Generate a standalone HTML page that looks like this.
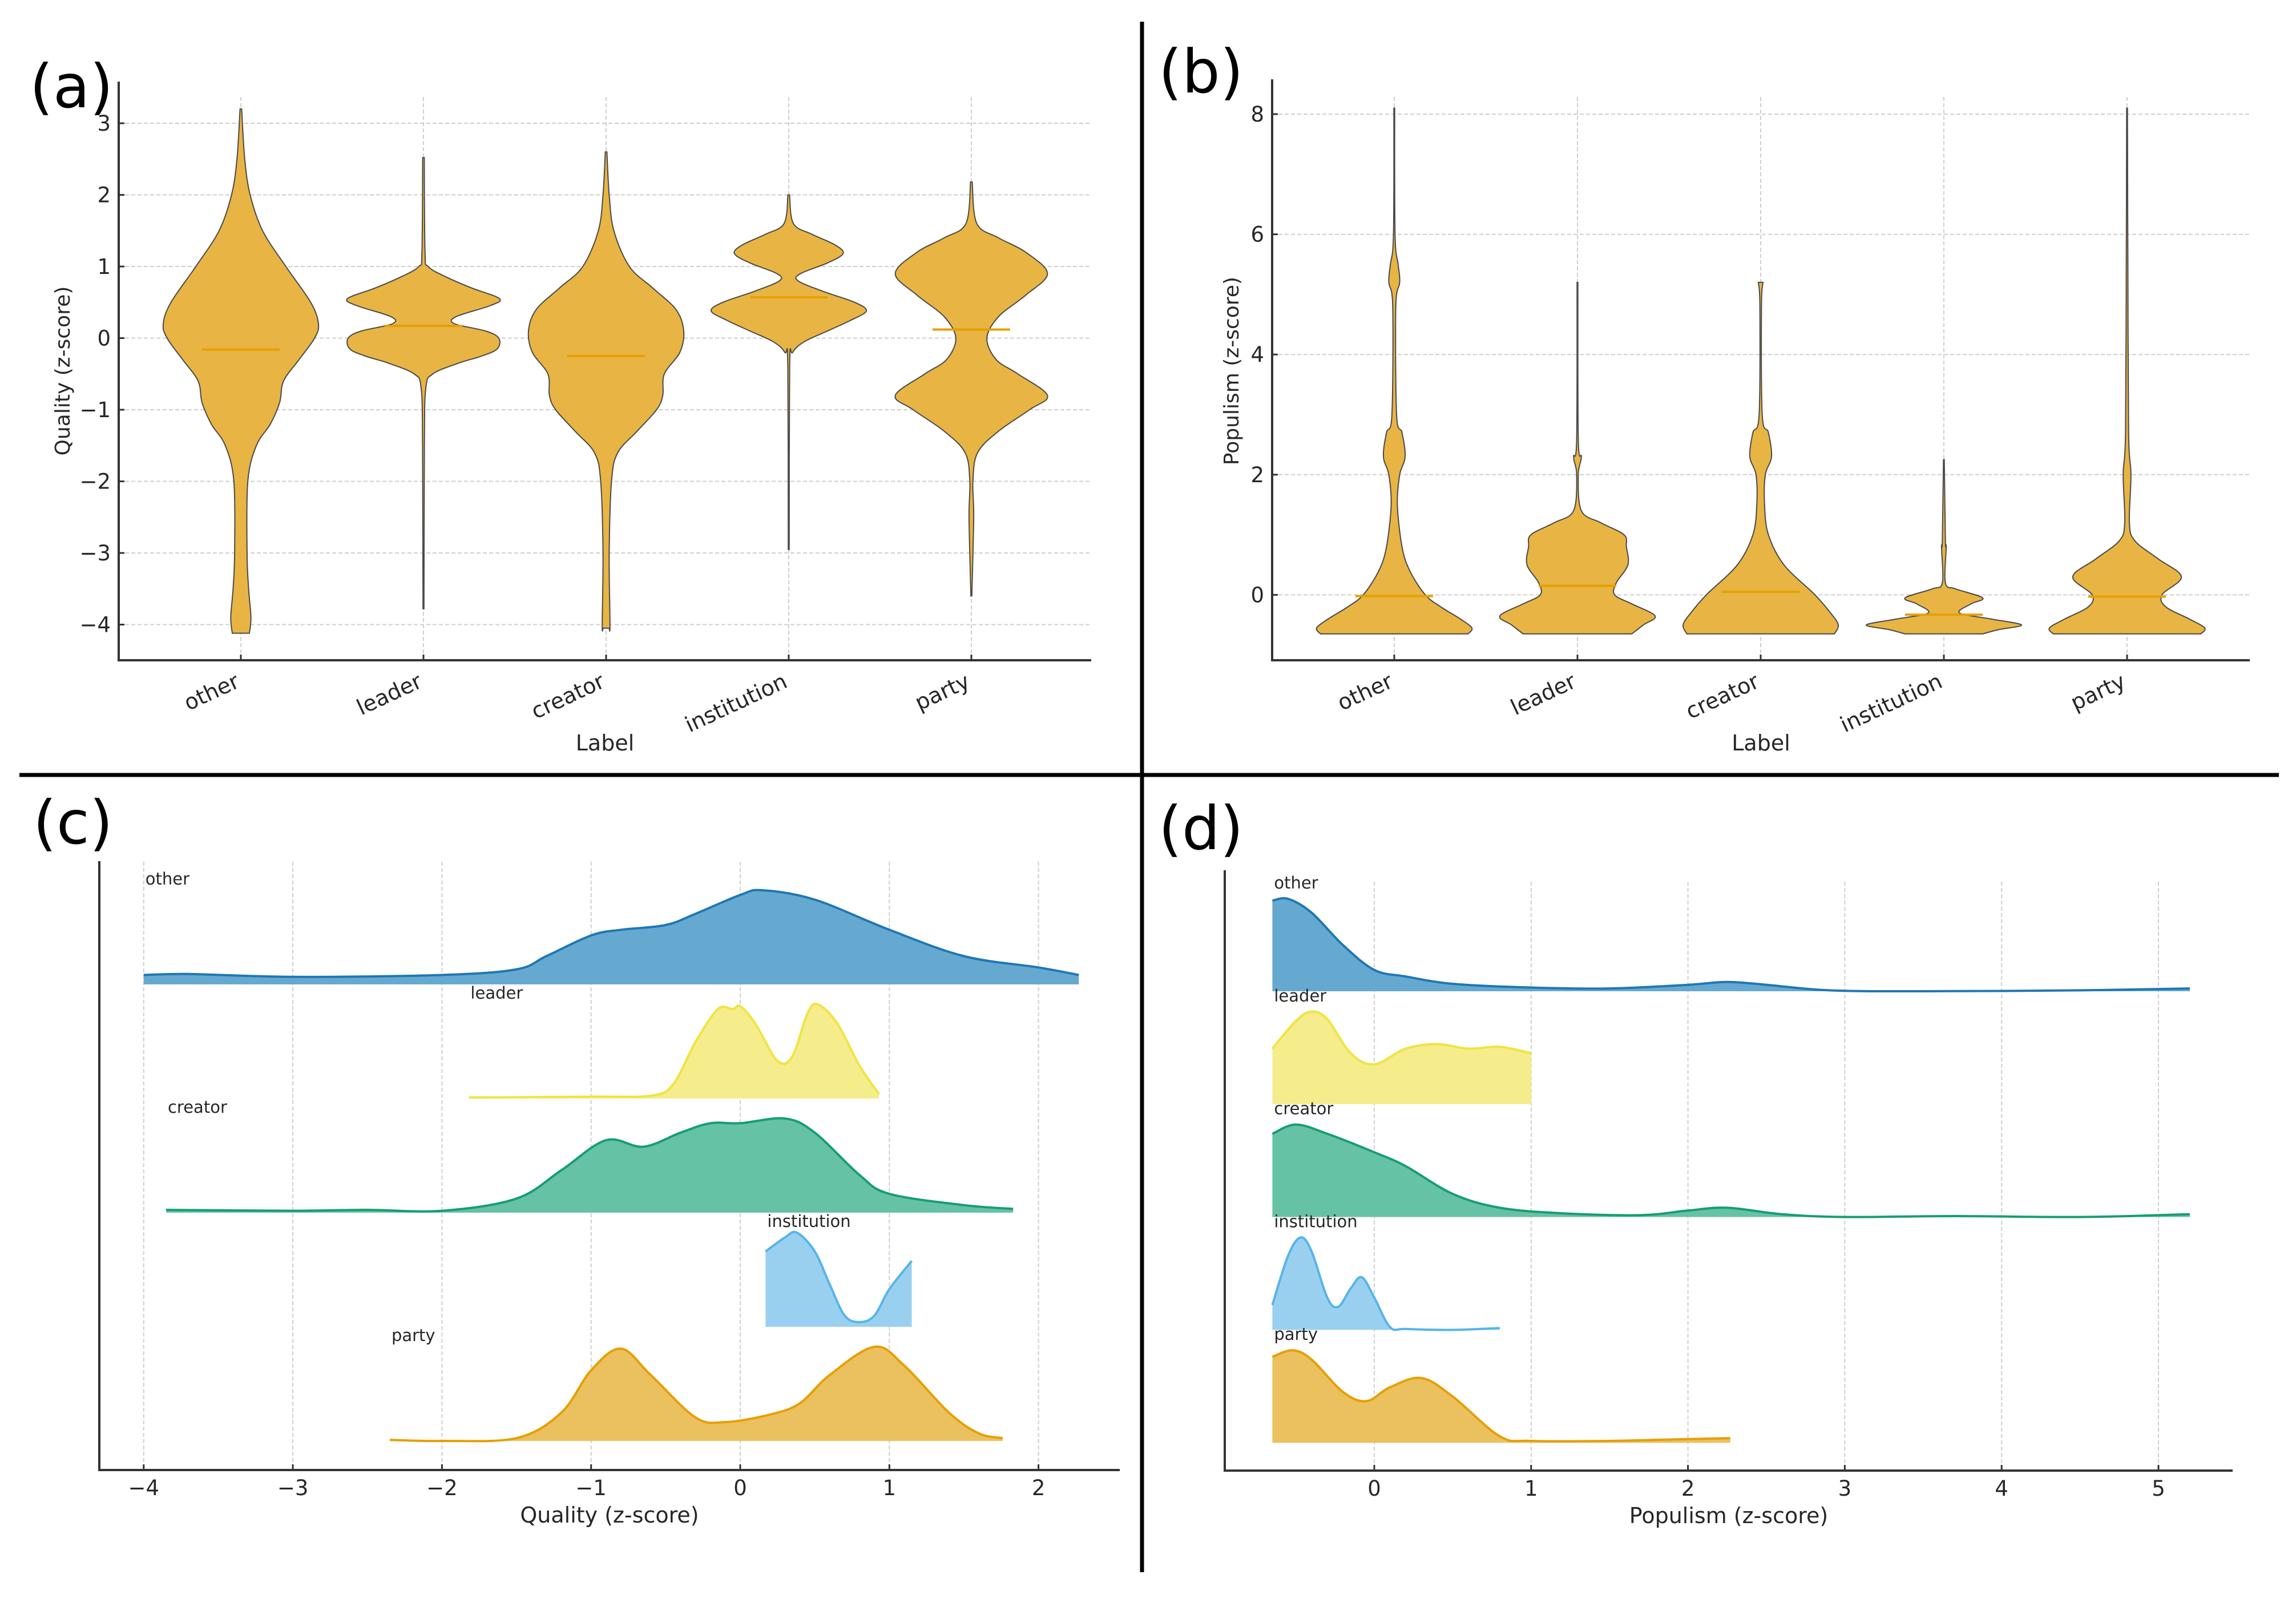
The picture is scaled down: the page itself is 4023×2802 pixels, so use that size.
<!DOCTYPE html>
<html><head><meta charset="utf-8"><title>Violin and ridge plots</title>
<style>html,body{margin:0;padding:0;background:#fff}svg{display:block}text{font-family:"DejaVu Sans","Liberation Sans",sans-serif}</style>
</head><body>
<svg id="fig" xmlns="http://www.w3.org/2000/svg" width="4023" height="2802" viewBox="0 0 4023 2802">
<rect width="4023" height="2802" fill="#fff"/>
<line x1="2001" y1="38" x2="2001" y2="2755" stroke="#000" stroke-width="7"/>
<line x1="34" y1="1358" x2="3993" y2="1358" stroke="#000" stroke-width="7"/>
<text x="52" y="188" font-size="105">(a)</text>
<text x="2030" y="162" font-size="105">(b)</text>
<text x="58" y="1478" font-size="105">(c)</text>
<text x="2030" y="1488" font-size="105">(d)</text>
<g id="pa"></g>
<g id="pb"></g>
<g id="pc"></g>
<g id="pd"></g>
</svg>
<script>
const categories = ["other","leader","creator","institution","party"];
const qualityViolinOther = [[3.2,0.01],[2.5,0.05],[2,0.12],[1.5,0.28],[1,0.58],[0.5,0.9],[0.2,1.0],[0,0.95],[-0.3,0.75],[-0.6,0.55],[-0.9,0.5],[-1.2,0.38],[-1.5,0.2],[-2,0.09],[-3,0.08],[-3.5,0.1],[-3.9,0.13],[-4.12,0.11]];
const qualityViolinLeader = [[2.52,0.01],[1.2,0.02],[1.0,0.06],[0.85,0.3],[0.7,0.62],[0.55,0.98],[0.45,0.85],[0.3,0.42],[0.2,0.4],[0.1,0.8],[0.0,0.97],[-0.15,0.95],[-0.25,0.75],[-0.35,0.45],[-0.5,0.12],[-0.7,0.03],[-1.5,0.012],[-3.78,0.006]];
const qualityViolinCreator = [[2.6,0.01],[2,0.04],[1.5,0.1],[1,0.3],[0.7,0.6],[0.4,0.9],[0.1,1.0],[-0.2,0.95],[-0.5,0.75],[-0.8,0.73],[-1.0,0.65],[-1.3,0.4],[-1.6,0.15],[-2,0.07],[-3,0.04],[-4,0.05],[-4.05,0.04]];
const qualityViolinInstitution = [[2.0,0.01],[1.6,0.06],[1.45,0.3],[1.3,0.6],[1.18,0.7],[1.05,0.5],[0.9,0.15],[0.8,0.12],[0.65,0.45],[0.5,0.85],[0.38,1.0],[0.25,0.8],[0.1,0.5],[-0.05,0.2],[-0.2,0.05],[-0.4,0.012],[-2.95,0.006]];
const qualityViolinParty = [[2.18,0.01],[1.6,0.07],[1.4,0.35],[1.2,0.7],[0.9,0.98],[0.6,0.7],[0.3,0.35],[0.0,0.2],[-0.3,0.32],[-0.5,0.6],[-0.8,0.98],[-1.0,0.75],[-1.3,0.35],[-1.6,0.08],[-2,0.02],[-2.5,0.03],[-3.6,0.006]];
const qualityMeans = [-0.16,0.17,-0.25,0.57,0.12];
const qualityTicks = [3,2,1,0,-1,-2,-3,-4];
const populismViolinOther = [[8.1,0.005],[6,0.01],[5.5,0.05],[5.2,0.07],[4.8,0.02],[3,0.03],[2.7,0.1],[2.3,0.14],[2,0.07],[1.5,0.04],[0.8,0.1],[0.4,0.2],[0,0.4],[-0.2,0.6],[-0.4,0.85],[-0.55,1.0],[-0.65,0.95]];
const populismViolinLeader = [[5.2,0.005],[2.6,0.01],[2.3,0.05],[2.0,0.01],[1.4,0.05],[1.2,0.3],[1.0,0.6],[0.8,0.63],[0.5,0.65],[0.2,0.5],[0.0,0.48],[-0.15,0.7],[-0.35,1.0],[-0.5,0.85],[-0.65,0.7]];
const populismViolinCreator = [[5.2,0.03],[4.8,0.01],[3,0.02],[2.7,0.1],[2.3,0.14],[2.0,0.06],[1.5,0.05],[1.0,0.1],[0.5,0.3],[0,0.7],[-0.3,0.9],[-0.5,1.0],[-0.65,0.95]];
const populismViolinInstitution = [[2.25,0.005],[0.9,0.02],[0.8,0.03],[0.2,0.02],[0.1,0.15],[-0.05,0.5],[-0.15,0.35],[-0.3,0.2],[-0.4,0.6],[-0.5,1.0],[-0.58,0.7],[-0.65,0.5]];
const populismViolinParty = [[8.1,0.005],[5.5,0.01],[2.7,0.02],[2.0,0.05],[1.2,0.03],[0.9,0.1],[0.6,0.4],[0.3,0.7],[0,0.45],[-0.2,0.5],[-0.4,0.8],[-0.55,1.0],[-0.65,0.95]];
const populismMeans = [-0.02,0.15,0.05,-0.33,-0.03];
const populismTicks = [8,6,4,2,0];
const qualityRidgeOther = [[-4,0.1],[-3.7,0.11],[-3,0.08],[-2,0.1],[-1.5,0.16],[-1.3,0.3],[-1,0.52],[-0.8,0.58],[-0.5,0.63],[-0.3,0.75],[0,0.95],[0.15,1.0],[0.5,0.9],[1,0.58],[1.5,0.3],[2,0.18],[2.27,0.1]];
const qualityRidgeLeader = [[-1.82,0.01],[-1,0.02],[-0.6,0.03],[-0.45,0.15],[-0.3,0.6],[-0.15,0.95],[-0.05,0.95],[0,0.98],[0.1,0.8],[0.25,0.4],[0.35,0.45],[0.45,0.9],[0.52,1.0],[0.65,0.8],[0.8,0.35],[0.93,0.05]];
const qualityRidgeCreator = [[-3.85,0.03],[-3,0.02],[-2.5,0.03],[-2,0.02],[-1.5,0.15],[-1.2,0.45],[-0.9,0.77],[-0.65,0.7],[-0.4,0.85],[-0.2,0.95],[0,0.95],[0.3,1.0],[0.5,0.85],[0.8,0.4],[1,0.2],[1.5,0.08],[1.83,0.04]];
const qualityRidgeInstitution = [[0.17,0.8],[0.3,0.95],[0.38,1.0],[0.5,0.8],[0.6,0.45],[0.7,0.12],[0.8,0.05],[0.9,0.12],[1.0,0.4],[1.15,0.7]];
const qualityRidgeParty = [[-2.35,0.01],[-2,0.0],[-1.5,0.03],[-1.2,0.3],[-1,0.75],[-0.8,0.98],[-0.6,0.7],[-0.3,0.25],[-0.1,0.2],[0.2,0.28],[0.4,0.4],[0.6,0.7],[0.9,1.0],[1.1,0.8],[1.4,0.3],[1.6,0.08],[1.76,0.03]];
const qualityXTicks = [-4,-3,-2,-1,0,1,2];
const populismRidgeOther = [[-0.65,0.98],[-0.55,1.0],[-0.4,0.85],[-0.2,0.5],[0,0.23],[0.2,0.16],[0.5,0.08],[1,0.04],[1.5,0.03],[2,0.07],[2.25,0.1],[2.5,0.07],[2.9,0.01],[3.5,0.0],[4.5,0.01],[5.2,0.03]];
const populismRidgeLeader = [[-0.65,0.6],[-0.5,0.9],[-0.4,1.0],[-0.3,0.92],[-0.15,0.55],[0,0.43],[0.2,0.6],[0.4,0.65],[0.6,0.6],[0.8,0.62],[1.0,0.55]];
const populismRidgeCreator = [[-0.65,0.9],[-0.5,1.0],[-0.3,0.9],[0,0.7],[0.2,0.55],[0.5,0.25],[0.8,0.1],[1.2,0.04],[1.7,0.02],[2,0.07],[2.25,0.1],[2.6,0.03],[3,0.0],[3.7,0.01],[4.5,0.0],[5.2,0.03]];
const populismRidgeInstitution = [[-0.65,0.27],[-0.55,0.8],[-0.47,1.0],[-0.4,0.85],[-0.3,0.35],[-0.23,0.25],[-0.15,0.45],[-0.08,0.57],[0,0.35],[0.1,0.03],[0.2,0.01],[0.5,0.0],[0.8,0.02]];
const populismRidgeParty = [[-0.65,0.93],[-0.52,1.0],[-0.4,0.9],[-0.2,0.55],[-0.05,0.45],[0.1,0.6],[0.3,0.7],[0.5,0.5],[0.8,0.07],[1,0.02],[1.5,0.02],[2,0.04],[2.27,0.05]];
const populismXTicks = [0,1,2,3,4,5];

const NS="http://www.w3.org/2000/svg";
function mk(parent,tag,attrs,txt){
  const e=document.createElementNS(NS,tag);
  Object.keys(attrs).forEach(function(k){e.setAttribute(k,String(attrs[k]));});
  if(txt!==undefined){e.appendChild(document.createTextNode(String(txt)));}
  parent.appendChild(e);
  return e;
}
function smooth(pts){let d="M"+pts[0][0].toFixed(1)+","+pts[0][1].toFixed(1);for(let i=0;i<pts.length-1;i++){const p0=pts[Math.max(0,i-1)],p1=pts[i],p2=pts[i+1],p3=pts[Math.min(pts.length-1,i+2)];const c1=[p1[0]+(p2[0]-p0[0])/6,p1[1]+(p2[1]-p0[1])/6],c2=[p2[0]-(p3[0]-p1[0])/6,p2[1]-(p3[1]-p1[1])/6];d+=" C"+c1[0].toFixed(1)+","+c1[1].toFixed(1)+" "+c2[0].toFixed(1)+","+c2[1].toFixed(1)+" "+p2[0].toFixed(1)+","+p2[1].toFixed(1);}return d;}
function curveOnly(pts){const s=smooth(pts);return s.substring(s.indexOf(" C"));}
const txtCol="#262626";
function minus(v){return String(v).replace("-","\u2212");}

function violinPanel(g,cfg){
  const y=function(v){return cfg.y0+(cfg.v0-v)*cfg.unit;};
  const xs=function(i){return cfg.x0+i*cfg.dx;};
  cfg.ticks.forEach(function(t){try{
    const l=mk(g,"line",{x1:cfg.left,x2:cfg.right,y1:y(t),y2:y(t),stroke:"#cfcfcf","stroke-width":2,"stroke-dasharray":"7,4"});
    
    
  }catch(e){}});
  categories.forEach(function(c,i){try{
    const l=mk(g,"line",{x1:xs(i),x2:xs(i),y1:cfg.gtop,y2:cfg.bottom,stroke:"#cfcfcf","stroke-width":2,"stroke-dasharray":"7,4"});
    
    
  }catch(e){}});
  try{
    const ax=mk(g,"path",{d:"M"+cfg.left+","+cfg.top+" V"+cfg.bottom+" H"+cfg.right,fill:"none",stroke:"#333","stroke-width":4});
    
    
  }catch(e){}
  cfg.data.forEach(function(prof,i){
    const cx=xs(i);
    try{
      const R=[],L=[];
      prof.forEach(function(p){R.push([cx+p[1]*cfg.hw,y(p[0])]);});
      for(let k=prof.length-1;k>=0;k--){L.push([cx-prof[k][1]*cfg.hw,y(prof[k][0])]);}
      const d=smooth(R)+" L"+L[0][0].toFixed(1)+","+L[0][1].toFixed(1)+curveOnly(L)+" Z";
      const p=mk(g,"path",{d:d,fill:"#e8b443",stroke:"#4a4a4a","stroke-width":2});
      
      
    }catch(e){}
    try{
      const m=mk(g,"line",{x1:cx-cfg.hw*0.5,x2:cx+cfg.hw*0.5,y1:y(cfg.means[i]),y2:y(cfg.means[i]),stroke:"#e69f00","stroke-width":4});
      
      
    }catch(e){}
    try{
      const tk=mk(g,"line",{x1:cx,x2:cx,y1:cfg.bottom,y2:cfg.bottom-10,stroke:"#333","stroke-width":3});
      
      
    }catch(e){}
    try{
      const ty=cfg.bottom+46;
      const t=mk(g,"text",{x:cx,y:ty,"font-size":38,fill:txtCol,"text-anchor":"end",transform:"rotate(-25 "+cx+" "+ty+")"},categories[i]);
      
      
    }catch(e){}
  });
  cfg.ticks.forEach(function(tv){
    try{
      const tk=mk(g,"line",{x1:cfg.left,x2:cfg.left+10,y1:y(tv),y2:y(tv),stroke:"#333","stroke-width":3});
      
      
    }catch(e){}
    try{
      const t=mk(g,"text",{x:cfg.left-14,y:y(tv)+13,"font-size":37,fill:txtCol,"text-anchor":"end"},minus(tv));
      
      
    }catch(e){}
  });
  try{
    const xl=mk(g,"text",{x:(cfg.left+cfg.right)/2,y:cfg.bottom+158,"font-size":38,fill:txtCol,"text-anchor":"middle"},"Label");
    
    
  }catch(e){}
  try{
    const yt=mk(g,"text",{x:cfg.ytx,y:cfg.yty,"font-size":36,fill:txtCol,"text-anchor":"middle",transform:"rotate(-90 "+cfg.ytx+" "+cfg.yty+")"},cfg.ytitle);
    
    
  }catch(e){}
}

const ridgeFill=["#66a9d0","#f5ec8b","#66c2a5","#9ad0ef","#ebc05f"];
const ridgeLine=["#1f77b4","#f0e442","#169d73","#56b4e9","#e69f00"];
function ridgePanel(g,cfg){
  const x=function(v){return cfg.xz+v*cfg.unit;};
  cfg.ticks.forEach(function(t){try{
    const l=mk(g,"line",{x1:x(t),x2:x(t),y1:cfg.gtop,y2:cfg.bottom,stroke:"#cfcfcf","stroke-width":2,"stroke-dasharray":"7,4"});
    
    
  }catch(e){}});
  try{
    const ax=mk(g,"path",{d:"M"+cfg.left+","+cfg.top+" V"+cfg.bottom+" H"+cfg.right,fill:"none",stroke:"#333","stroke-width":4});
    
    
  }catch(e){}
  cfg.data.forEach(function(prof,i){
    const b=cfg.base0+i*cfg.step;
    const pts=prof.map(function(p){return [x(p[0]),b-p[1]*cfg.h];});
    const line=smooth(pts);
    try{
      const f=mk(g,"path",{d:line+" L"+pts[pts.length-1][0].toFixed(1)+","+b+" L"+pts[0][0].toFixed(1)+","+b+" Z",fill:ridgeFill[i],stroke:"none"});
      
      
    }catch(e){}
    try{
      const l=mk(g,"path",{d:line,fill:"none",stroke:ridgeLine[i],"stroke-width":4,"stroke-linejoin":"round"});
      
      
    }catch(e){}
    try{
      const t=mk(g,"text",{x:pts[0][0]+3,y:b-cfg.labOff,"font-size":29,fill:txtCol},categories[i]);
      
      
    }catch(e){}
  });
  cfg.ticks.forEach(function(tv){
    try{
      const tk=mk(g,"line",{x1:x(tv),x2:x(tv),y1:cfg.bottom,y2:cfg.bottom-10,stroke:"#333","stroke-width":3});
      
      
    }catch(e){}
    try{
      const t=mk(g,"text",{x:x(tv),y:cfg.bottom+44,"font-size":37,fill:txtCol,"text-anchor":"middle"},minus(tv));
      
      
    }catch(e){}
  });
  try{
    const xl=mk(g,"text",{x:(cfg.left+cfg.right)/2,y:cfg.bottom+92,"font-size":38,fill:txtCol,"text-anchor":"middle"},cfg.xtitle);
    
    
  }catch(e){}
}

try{violinPanel(document.getElementById("pa"),{left:208,right:1912,top:143,gtop:170,bottom:1157,y0:216,v0:3,unit:125.5,x0:422,dx:320,hw:136,ticks:qualityTicks,means:qualityMeans,
  data:[qualityViolinOther,qualityViolinLeader,qualityViolinCreator,qualityViolinInstitution,qualityViolinParty],ytx:122,yty:650,ytitle:"Quality (z-score)"});}catch(e){}
try{violinPanel(document.getElementById("pb"),{left:2229,right:3942,top:139,gtop:170,bottom:1157,y0:200,v0:8,unit:105.3,x0:2443,dx:321,hw:136,ticks:populismTicks,means:populismMeans,
  data:[populismViolinOther,populismViolinLeader,populismViolinCreator,populismViolinInstitution,populismViolinParty],ytx:2170,yty:650,ytitle:"Populism (z-score)"});}catch(e){}
try{ridgePanel(document.getElementById("pc"),{left:174,right:1962,top:1509,gtop:1510,bottom:2576,xz:1297,unit:261.3,ticks:qualityXTicks,base0:1725,step:200,h:165,labOff:175,
  data:[qualityRidgeOther,qualityRidgeLeader,qualityRidgeCreator,qualityRidgeInstitution,qualityRidgeParty],xtitle:"Quality (z-score)"});}catch(e){}
try{ridgePanel(document.getElementById("pd"),{left:2146,right:3912,top:1525,gtop:1545,bottom:2577,xz:2408,unit:274.8,ticks:populismXTicks,base0:1737,step:197.8,h:162,labOff:180,
  data:[populismRidgeOther,populismRidgeLeader,populismRidgeCreator,populismRidgeInstitution,populismRidgeParty],xtitle:"Populism (z-score)"});}catch(e){}
</script>
</body></html>
